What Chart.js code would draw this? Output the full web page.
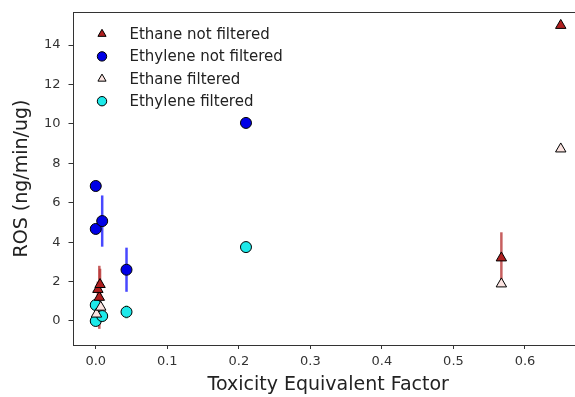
<!DOCTYPE html>
<html lang="en">
<head>
<meta charset="UTF-8">
<title>ROS vs Toxicity Equivalent Factor</title>
<script src="https://cdn.jsdelivr.net/npm/chart.js"></script>
<style>
    * { margin: 0; padding: 0; box-sizing: border-box; }
    body { background: #ffffff; overflow: hidden; width: 575px; height: 397px; }
    #wrap { width: 600px; height: 397px; }
</style>
</head>
<body>
<div id="wrap"><canvas id="rosChart" width="600" height="397"></canvas></div>
<script>
// data
const ethaneNfX   = [0.005, 0.003, 0.006, 0.567, 0.65];
const ethaneNfY   = [1.2, 1.6, 1.85, 3.2, 15.0];
const ethaneNfErr = [1.6, 0.4, 0.8, 1.3, 0];

const ethyleneNfX   = [0.0, 0.0, 0.009, 0.043, 0.21];
const ethyleneNfY   = [6.85, 4.67, 5.07, 2.6, 10.05];
const ethyleneNfErr = [0, 0, 1.3, 1.12, 0];

const ethaneFX   = [0.001, 0.007, 0.567, 0.65];
const ethaneFY   = [0.35, 0.7, 1.88, 8.73];
const ethaneFErr = [0.3, 0.25, 0, 0];

const ethyleneFX   = [0.0, 0.0, 0.009, 0.043, 0.21];
const ethyleneFY   = [0.81, 0.0, 0.25, 0.46, 3.75];
const ethyleneFErr = [0, 0, 0, 0.35, 0];

const xTicks = [0, 0.1, 0.2, 0.3, 0.4, 0.5, 0.6];
const yTicks = [0, 2, 4, 6, 8, 10, 12, 14];

function pts(xs, ys, errs) {
    return xs.map((x, i) => ({ x: x, y: ys[i], err: errs[i] }));
}

// vertical error bars, placed with the chart's own scales
const errorBars = {
    id: 'errorBars',
    beforeDatasetsDraw(chart) {
        const ctx = chart.ctx;
        const xs = chart.scales.x, ys = chart.scales.y;
        chart.data.datasets.forEach(ds => {
            ctx.save();
            ctx.strokeStyle = ds.errColor;
            ctx.lineWidth = 2.5;
            ds.data.forEach(p => {
                if (!p.err) return;
                const px = xs.getPixelForValue(p.x);
                ctx.beginPath();
                ctx.moveTo(px, ys.getPixelForValue(p.y + p.err));
                ctx.lineTo(px, ys.getPixelForValue(p.y - p.err));
                ctx.stroke();
            });
            ctx.restore();
        });
    }
};

// axes frame + legend in the upper-left corner
const frameLegend = {
    id: 'frameLegend',
    afterDraw(chart) {
        const ctx = chart.ctx;
        const a = chart.chartArea;
        ctx.save();
        ctx.strokeStyle = '#333';
        ctx.lineWidth = 1;
        ctx.strokeRect(Math.round(a.left) + 0.5, Math.round(a.top) + 0.5,
            Math.round(a.right - a.left), Math.round(a.bottom - a.top));

        ctx.font = '15px "DejaVu Sans"';
        ctx.textBaseline = 'middle';
        chart.data.datasets.forEach((ds, i) => {
            const y = a.top + 22 + i * 22.4;
            ctx.fillStyle = ds.backgroundColor;
            ctx.strokeStyle = ds.borderColor;
            ctx.lineWidth = 1;
            Chart.helpers.drawPoint(ctx, {
                pointStyle: ds.pointStyle,
                radius: 4.7,
                rotation: 0,
                borderWidth: 1
            }, a.left + 29.5, y);
            ctx.fillStyle = '#222';
            ctx.fillText(ds.label, a.left + 57, y + 1);
        });
        ctx.restore();
    }
};

const ctx = document.getElementById('rosChart').getContext('2d');
const rosChart = new Chart(ctx, {
    type: 'scatter',
    data: {
        datasets: [
            {
                label: 'Ethane not filtered',
                data: pts(ethaneNfX, ethaneNfY, ethaneNfErr),
                pointStyle: 'triangle',
                pointRadius: 6,
                backgroundColor: '#b01f1f',
                borderColor: '#000',
                borderWidth: 1,
                errColor: 'rgba(185, 55, 55, 0.8)'
            },
            {
                label: 'Ethylene not filtered',
                data: pts(ethyleneNfX, ethyleneNfY, ethyleneNfErr),
                pointStyle: 'circle',
                pointRadius: 5.5,
                backgroundColor: '#0000e6',
                borderColor: '#000',
                borderWidth: 1,
                errColor: 'rgba(40, 40, 255, 0.85)'
            },
            {
                label: 'Ethane filtered',
                data: pts(ethaneFX, ethaneFY, ethaneFErr),
                pointStyle: 'triangle',
                pointRadius: 6,
                backgroundColor: '#fbe3e0',
                borderColor: '#000',
                borderWidth: 1,
                errColor: 'rgba(240, 200, 200, 0.9)'
            },
            {
                label: 'Ethylene filtered',
                data: pts(ethyleneFX, ethyleneFY, ethyleneFErr),
                pointStyle: 'circle',
                pointRadius: 5.5,
                backgroundColor: '#1de9e9',
                borderColor: '#000',
                borderWidth: 1,
                errColor: 'rgba(150, 240, 200, 0.9)'
            }
        ]
    },
    options: {
        responsive: false,
        animation: false,
        events: [],
        layout: { padding: { top: 12, right: 16, left: 0, bottom: 0 } },
        plugins: {
            legend: { display: false },
            tooltip: { enabled: false }
        },
        scales: {
            x: {
                type: 'linear',
                min: -0.0325,
                max: 0.6825,
                afterFit: s => {
                    s.height = 52;
                    s.paddingLeft = 0; s.paddingRight = 0;
                },
                afterBuildTicks: s => { s.ticks = xTicks.map(v => ({ value: v })); },
                border: { display: false },
                grid: { drawOnChartArea: false, drawTicks: true, tickLength: 4, color: '#333' },
                ticks: {
                    padding: 5,
                    color: '#333',
                    font: { family: 'DejaVu Sans', size: 13 },
                    callback: v => v.toFixed(1)
                },
                title: {
                    display: true,
                    text: 'Toxicity Equivalent Factor',
                    color: '#222',
                    font: { family: 'DejaVu Sans', size: 19 },
                    padding: { top: 0, bottom: 1 }
                }
            },
            y: {
                type: 'linear',
                min: -1.22,
                max: 15.68,
                afterFit: s => {
                    s.width = 72.5;
                    s.paddingTop = 0; s.paddingBottom = 0;
                },
                afterBuildTicks: s => { s.ticks = yTicks.map(v => ({ value: v })); },
                border: { display: false },
                grid: { drawOnChartArea: false, drawTicks: true, tickLength: 4, color: '#333' },
                ticks: {
                    padding: 8,
                    color: '#333',
                    font: { family: 'DejaVu Sans', size: 13 },
                    callback: v => String(v)
                },
                title: {
                    display: true,
                    text: 'ROS (ng/min/ug)',
                    color: '#222',
                    font: { family: 'DejaVu Sans', size: 19 },
                    padding: { top: 11, bottom: 0 }
                }
            }
        }
    },
    plugins: [errorBars, frameLegend]
});
</script>
</body>
</html>
